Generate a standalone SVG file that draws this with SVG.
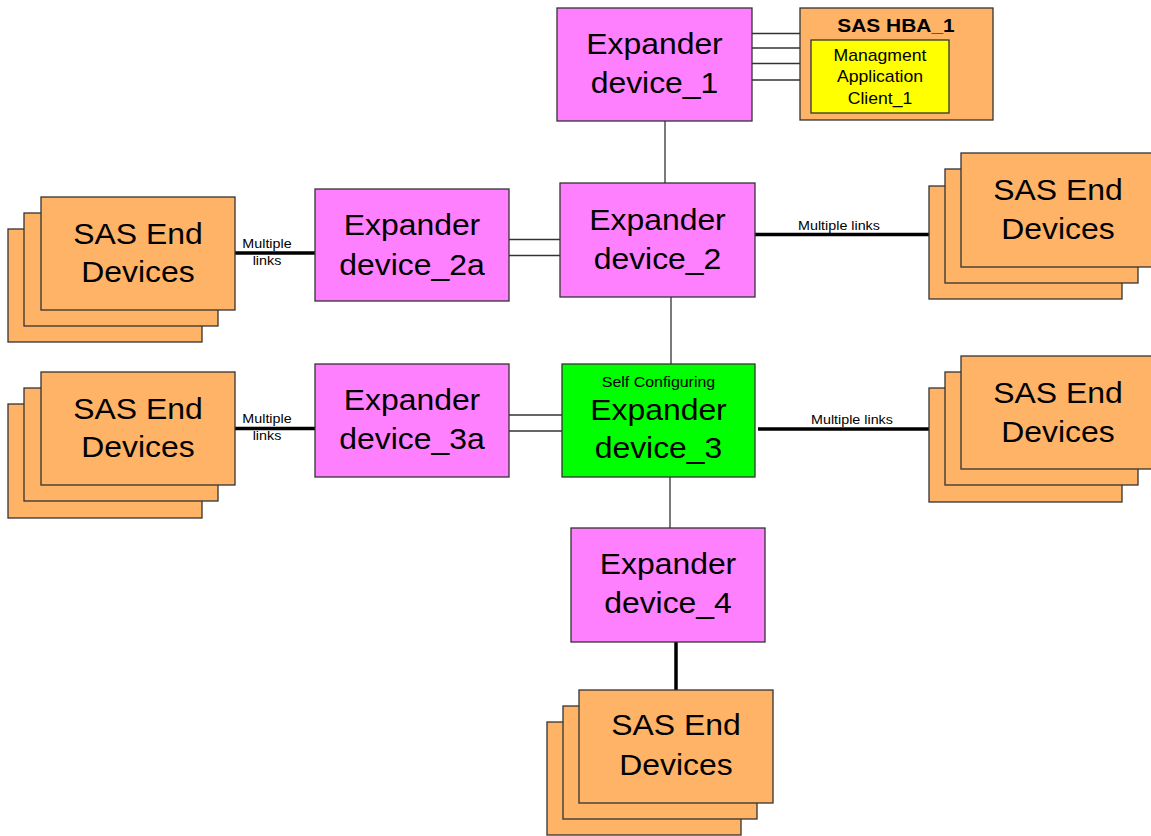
<svg xmlns="http://www.w3.org/2000/svg" width="1151" height="836" viewBox="0 0 1151 836">
<style>
rect{stroke:#333;stroke-width:1.3}
.exp{fill:#FF80FF}
.grn{fill:#00FF00}
.org{fill:#FFB366}
.yel{fill:#FFFF00}
text{font-family:"Liberation Sans",Arial,sans-serif;fill:#000;text-anchor:middle;transform-box:fill-box;transform-origin:center;transform:scaleX(1.1)}
.big{font-size:29px}
.sm{font-size:13px}
.thin{stroke:#333;stroke-width:1.3;fill:none}
.thick{stroke:#000;stroke-width:3.5;fill:none}
</style>
<rect width="1151" height="836" fill="#fff" style="stroke:none"/>
<g id="connectors">
<line class="thin" x1="752" y1="33.5" x2="800" y2="33.5"/>
<line class="thin" x1="752" y1="48" x2="800" y2="48"/>
<line class="thin" x1="752" y1="63.5" x2="800" y2="63.5"/>
<line class="thin" x1="752" y1="80" x2="800" y2="80"/>
<line class="thin" x1="665" y1="121" x2="665" y2="183"/>
<line class="thin" x1="509" y1="239.5" x2="560" y2="239.5"/>
<line class="thin" x1="509" y1="255.5" x2="560" y2="255.5"/>
<line class="thin" x1="671" y1="297" x2="671" y2="364"/>
<line class="thin" x1="509" y1="415" x2="562" y2="415"/>
<line class="thin" x1="509" y1="431" x2="562" y2="431"/>
<line class="thin" x1="670" y1="477" x2="670" y2="528"/>
<line class="thick" x1="235" y1="253" x2="315" y2="253"/>
<line class="thick" x1="755" y1="234.5" x2="929" y2="234.5"/>
<line class="thick" x1="235" y1="428.5" x2="315" y2="428.5"/>
<line class="thick" x1="758" y1="429" x2="929" y2="429"/>
<line class="thick" x1="676" y1="642" x2="676" y2="690"/>
<text class="sm" x="267" y="248">Multiple</text>
<text class="sm" x="267" y="265">links</text>
<text class="sm" x="267" y="423">Multiple</text>
<text class="sm" x="267" y="440">links</text>
<text class="sm" x="839" y="230">Multiple links</text>
<text class="sm" x="852" y="424">Multiple links</text>
</g>
<g id="expander1">
<rect class="exp" x="557" y="8" width="195" height="113"/>
<text class="big" x="654.5" y="54">Expander</text>
<text class="big" x="654.5" y="93">device_1</text>
</g>
<g id="hba1">
<rect class="org" x="800" y="8" width="193" height="112"/>
<text x="896" y="32" style="font-size:19px;font-weight:bold">SAS HBA_1</text>
<rect class="yel" x="811" y="40" width="138" height="73"/>
<text x="880" y="61" style="font-size:16px">Managment</text>
<text x="880" y="82" style="font-size:16px">Application</text>
<text x="880" y="104" style="font-size:16px">Client_1</text>
</g>
<g id="expander2">
<rect class="exp" x="560" y="183" width="195" height="114"/>
<text class="big" x="657.5" y="230">Expander</text>
<text class="big" x="657.5" y="269">device_2</text>
</g>
<g id="expander2a">
<rect class="exp" x="315" y="189" width="194" height="112"/>
<text class="big" x="412" y="235">Expander</text>
<text class="big" x="412" y="275">device_2a</text>
</g>
<g id="expander3a">
<rect class="exp" x="315" y="364" width="194" height="113"/>
<text class="big" x="412" y="410">Expander</text>
<text class="big" x="412" y="449">device_3a</text>
</g>
<g id="expander3">
<rect class="grn" x="562" y="364" width="193" height="113"/>
<text x="658.5" y="387" style="font-size:14.5px">Self Configuring</text>
<text class="big" x="658.5" y="420">Expander</text>
<text class="big" x="658.5" y="458">device_3</text>
</g>
<g id="expander4">
<rect class="exp" x="571" y="528" width="194" height="114"/>
<text class="big" x="668" y="574">Expander</text>
<text class="big" x="668" y="613">device_4</text>
</g>
<g id="end_left_upper">
<rect class="org" x="8" y="229" width="194" height="113"/>
<rect class="org" x="24" y="213" width="194" height="113"/>
<rect class="org" x="41" y="197" width="194" height="113"/>
<text class="big" x="138" y="244">SAS End</text>
<text class="big" x="138" y="282">Devices</text>
</g>
<g id="end_left_lower">
<rect class="org" x="8" y="404" width="194" height="114"/>
<rect class="org" x="24" y="388" width="194" height="113"/>
<rect class="org" x="41" y="372" width="194" height="113"/>
<text class="big" x="138" y="419">SAS End</text>
<text class="big" x="138" y="457">Devices</text>
</g>
<g id="end_right_upper">
<rect class="org" x="929" y="186" width="193" height="113"/>
<rect class="org" x="945" y="169" width="193" height="114"/>
<rect class="org" x="961" y="153" width="194" height="114"/>
<text class="big" x="1058" y="200">SAS End</text>
<text class="big" x="1058" y="239">Devices</text>
</g>
<g id="end_right_lower">
<rect class="org" x="929" y="388" width="193" height="114"/>
<rect class="org" x="945" y="372" width="193" height="113"/>
<rect class="org" x="961" y="356" width="194" height="113"/>
<text class="big" x="1058" y="403">SAS End</text>
<text class="big" x="1058" y="442">Devices</text>
</g>
<g id="end_bottom">
<rect class="org" x="547" y="722" width="194" height="113"/>
<rect class="org" x="563" y="706" width="194" height="113"/>
<rect class="org" x="579" y="690" width="194" height="113"/>
<text class="big" x="676" y="735">SAS End</text>
<text class="big" x="676" y="775">Devices</text>
</g>
</svg>
